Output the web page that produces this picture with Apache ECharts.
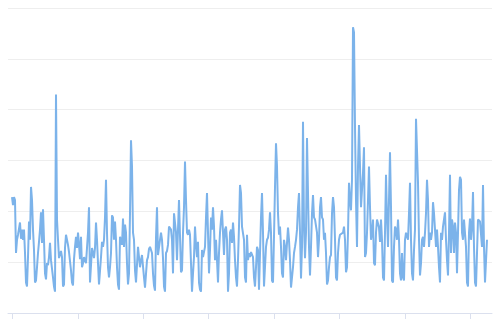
<!DOCTYPE html>
<html>
<head>
<meta charset="utf-8">
<script src="https://cdn.jsdelivr.net/npm/echarts@6/dist/echarts.min.js"></script>
<style>html,body{margin:0;padding:0;background:#fff}#c{width:500px;height:333px}</style>
</head>
<body>
<div id="c"></div>
<script>
// Series values, one point per step
const valuesA = [114,106,114,111,59,72,77,83,89,73,82,72,82,59,30,26,55,90,72,124,111,82,62,30,32,45,59,70,82,99,69,102,72,39,33,49,47,55,69,52,52,35,26,21,215,92,72,54,53,61,55,26,28,64,77,77,67,60,59,42,30,27,53,65,75,64,79,67,53,75,45,49,55,55,49,49,79,104,30,30,64,64,54,64,89,72,49,28,28,55,70,65,72,94,131,79,45,35,45,59,96,94,72,90,72,45,28,23,75,75,67,93,65,87,79,49,28,39,98,170,144,79,72,42,30,30,65,65,45,52,57,57,35,25,26,52,55,63,65,64,59,39,27,22,74,104,57,57,72,79,72,54,26,21,59,61,67,85,85];
const valuesB = [82,72,39,98,98,79,52,82,111,111,40,42,79,104,149,111,79,77,82,77,49,21,39,55,85,67,55,70,30,23,21,62,55,55,65,94,118,79,39,62,94,82,104,85,52,72,52,30,59,79,92,101,79,57,82,85,72,21,39,79,82,69,89,75,52,35,26,52,85,126,118,85,84,72,35,30,77,52,59,55,60,59,55,35,26,45,65,62,23,23,94,118,79,26,26,65,72,74,82,99,79,32,30,75,124,167,144,98,77,85,65,39,35,72,65,52,69,84,72,52,25,26,45,59,65,72,82,104,118,79,34,65,188,85,54,79,172,118,65,37,65,98,116,94,92,93,79,55,72,104,114,94,92,72,79,59,28,32,45,55,57,98,114,104];
const valuesC = [72,35,32,59,72,77,77,77,79,85,72,40,45,79,128,111,101,131,281,276,183,111,65,144,185,144,104,104,138,163,55,59,79,111,144,104,72,79,92,49,47,79,92,92,84,70,92,72,35,32,79,136,94,65,111,158,104,32,30,65,85,82,72,92,72,39,32,59,35,32,72,79,79,72,98,128,72,39,32,62,82,191,160,128,72,37,49,72,75,65,79,98,131,111,65,79,72,79,109,98,82,65,82,65,45,30,79,72,85,92,99,72,52,37,79,136,59,92,85,59,89,79,39,79,121,134,131,79,72,92,92,65,30,26,79,93,72,85,119,65,30,26,59,92,92,90,89,65,126,65,30,30,72];
const values = valuesA.concat(valuesB, valuesC);
// x-axis tick positions, in point-index units
const tickValues = [0.5, 66, 131, 196, 262, 327, 393, 458];
const yMax = 300, yInterval = 50;

const N = values.length;
const chart = echarts.init(document.getElementById('c'), null, {renderer: 'canvas'});
chart.setOption({
  animation: false,
  grid: {left: 8, right: 8, top: 8, bottom: 20, containLabel: false},
  xAxis: {
    type: 'value',
    min: -4,
    max: N - 1 + 5,
    axisLine: {show: true, lineStyle: {color: '#dbe0ee', width: 1}},
    axisTick: {show: true, customValues: tickValues, length: 6, lineStyle: {color: '#dbe0ee'}},
    axisLabel: {show: false},
    splitLine: {show: false}
  },
  yAxis: {
    type: 'value',
    min: 0,
    max: yMax,
    interval: yInterval,
    axisLine: {show: false},
    axisTick: {show: false},
    axisLabel: {show: false},
    splitLine: {show: true, lineStyle: {color: '#eeeeee', width: 1}}
  },
  series: [{
    type: 'line',
    data: values.map((v, i) => [i, v]),
    showSymbol: false,
    symbol: 'none',
    smooth: false,
    lineStyle: {color: '#7cb3ea', width: 2},
    itemStyle: {color: '#7cb3ea'}
  }]
});
</script>
</body>
</html>
